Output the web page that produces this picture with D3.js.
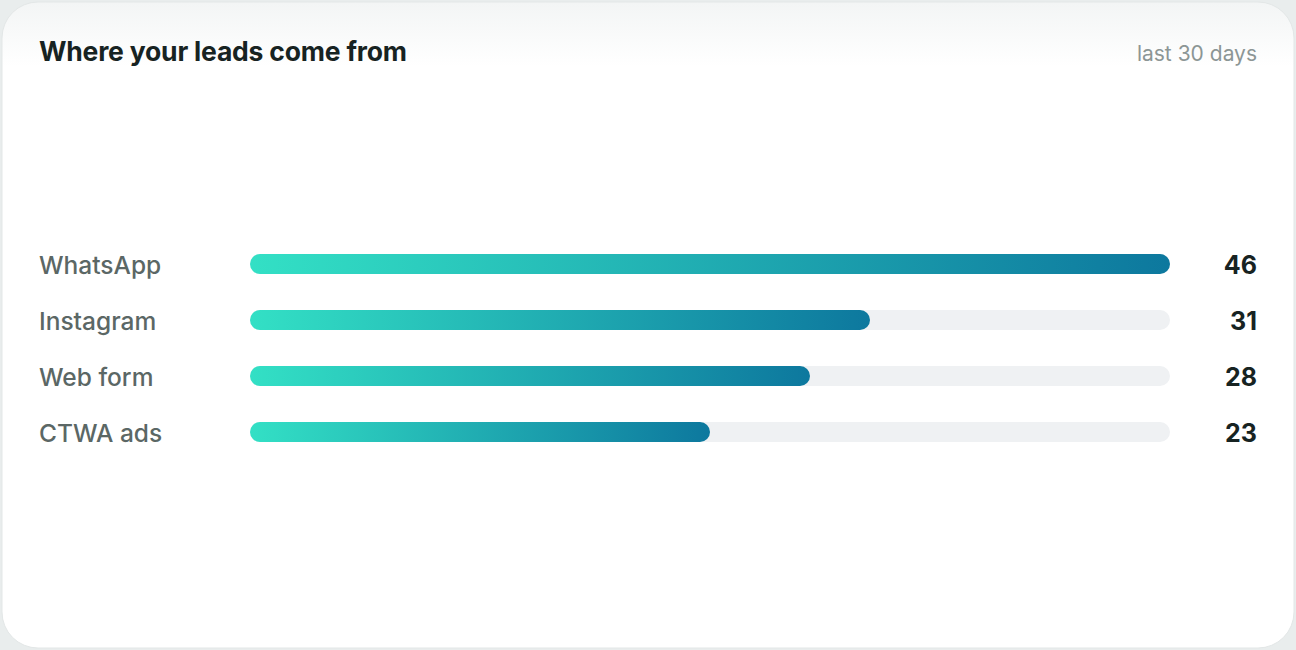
<!DOCTYPE html>
<html><head><meta charset="utf-8">
<script src="https://cdn.jsdelivr.net/npm/d3@7"></script>
<style>body{margin:0;background:#e9eded;font-family:Inter,"Noto Sans",sans-serif;}</style>
</head><body>
<div id="viz-container"></div>
<script>
let sources = ["WhatsApp","Instagram","Web form","CTWA ads"];
let leads = [46,31,28,23];

let viz = d3.select("#viz-container").append("svg")
    .attr("width",1296).attr("height",650);

let defs = viz.append("defs");
let cardGrad = defs.append("linearGradient").attr("id","card").attr("x1",0).attr("x2",0).attr("y1",0).attr("y2",1);
cardGrad.append("stop").attr("offset","0").attr("stop-color","#f3f5f5");
cardGrad.append("stop").attr("offset","0.1").attr("stop-color","#ffffff");
let barGrad = defs.append("linearGradient").attr("id","bar");
barGrad.append("stop").attr("offset","0").attr("stop-color","#33e0c5");
barGrad.append("stop").attr("offset","1").attr("stop-color","#0d789e");

viz.append("rect").attr("x",2).attr("y",2).attr("width",1292).attr("height",646)
  .attr("rx",36).attr("fill","url(#card)").attr("stroke","#e3e7e7");

viz.append("text").attr("x",39).attr("y",61).attr("font-size",26.5).attr("font-weight",700)
  .attr("fill","#172322").attr("letter-spacing","-0.2").text("Where your leads come from");
viz.append("text").attr("x",1257).attr("y",61).attr("text-anchor","end").attr("font-size",21)
  .attr("fill","#8c9695").text("last 30 days");

let x = d3.scaleLinear().domain([0,d3.max(leads)]).range([250,1170]);
let y = d3.scaleBand().domain(sources).range([236,460]);

let rows = viz.selectAll(".row").data(sources).enter().append("g").attr("class","row")
  .attr("transform",d=>"translate(0,"+(y(d)+y.bandwidth()/2)+")");

rows.append("rect").attr("x",x(0)).attr("y",-10).attr("height",20)
  .attr("width",x.range()[1]-x(0)).attr("rx",10).attr("fill","#eff1f3");
rows.append("rect").attr("x",x(0)).attr("y",-10).attr("height",20)
  .attr("width",(d,i)=>x(leads[i])-x(0)).attr("rx",10).attr("fill","url(#bar)");
rows.append("text").attr("x",39).attr("y",10).attr("font-size",24.5)
  .attr("fill","#5b6765").attr("font-weight",500).text(d=>d);
rows.append("text").attr("x",1257).attr("y",10).attr("text-anchor","end").attr("font-size",25)
  .attr("font-weight",700).attr("fill","#172322").text((d,i)=>leads[i]);
</script>
</body></html>
